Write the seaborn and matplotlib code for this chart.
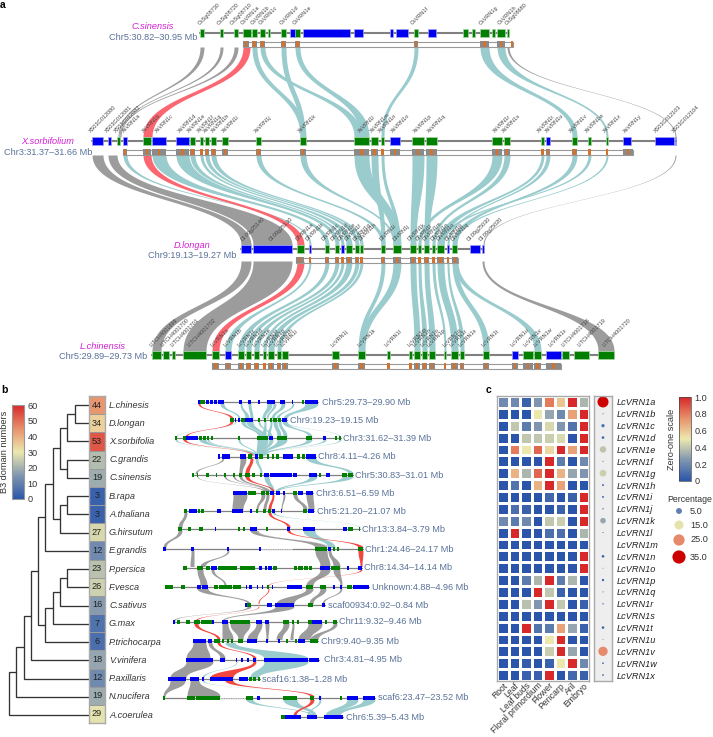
import matplotlib
matplotlib.use("Agg")
import matplotlib.pyplot as plt
import numpy as np
import seaborn as sns
from matplotlib.colors import LinearSegmentedColormap

sns.set_theme(style="white")
plt.rcParams["font.family"] = ["Liberation Sans", "DejaVu Sans"]

W, H = 713, 737
BLUE, GREEN, LINE = "#0000f0", "#007f00", "#808080"
TEAL, GREY, RED = "#9accce", "#9c9c9c", "#fb6670"
SLATE, MAGENTA, DARK = "#5a7299", "#d01fd0", "#333333"

# ---------- panel a: genes along the four regions
cs_name, cs_range = "C.sinensis", "Chr5:30.82–30.95 Mb"
cs_green = [(200, 204), (220, 223), (234, 238), (243, 251), (252, 257), (260, 265), (268, 270), (281, 286),
            (295, 300), (414, 418), (463, 468), (472, 475), (480, 489), (492, 495), (497, 505), (507, 509)]
cs_blue = [(290, 295), (303, 350), (354, 363), (390, 393), (396, 408), (428, 436)]
cs_boxed = [(243, 249), (252, 257), (260, 265), (281, 286), (295, 300), (414, 418), (480, 489), (497, 505),
            (511, 513)]
cs_labels = ["CsSg08730", "CsSg08720", "CsSg08710", "CsVRN1a", "CsVRN1b", "CsVRN1c", "CsVRN1d", "CsVRN1e",
             "CsVRN1f", "CsVRN1g", "CsVRN1h", "CsSg08680"]
cs_label_x = [201, 220, 233, 243, 253, 261, 282, 295, 413, 482, 500, 508]

xs_name, xs_range = "X.sorbifolium", "Chr3:31.37–31.66 Mb"
xs_green = [(117, 120), (143, 151), (190, 195), (200, 203), (205, 209), (211, 216), (222, 228), (256, 261),
            (300, 306), (354, 369), (371, 378), (381, 384), (412, 424), (426, 437), (492, 502), (504, 510),
            (541, 544), (572, 577), (588, 591), (606, 608)]
xs_blue = [(92, 103), (108, 111), (123, 127), (152, 166), (176, 189), (390, 400), (546, 550), (623, 631),
           (655, 674), (675, 676)]
xs_boxed = [(123, 127), (143, 151), (152, 166), (176, 189), (190, 195), (200, 203), (205, 209), (211, 216),
            (222, 228), (256, 261), (300, 306), (354, 369), (371, 378), (381, 384), (390, 400), (412, 424),
            (426, 437), (492, 502), (504, 510), (541, 544), (546, 550), (572, 577), (588, 591), (606, 608),
            (623, 633)]
xs_labels = ["XS03G012080", "XS03G012081", "XS03G012082", "XsVRN1a", "XsVRN1b", "XsVRN1c", "XsVRN1d", "XsVRN1e",
             "XsVRN1f", "XsVRN1g", "XsVRN1h", "XsVRN1i", "XsVRN1j", "XsVRN1k", "XsVRN1l", "XsVRN1m", "XsVRN1n",
             "XsVRN1o", "XsVRN1p", "XsVRN1q", "XsVRN1r", "XsVRN1s", "XsVRN1t", "XsVRN1u", "XsVRN1v", "XsVRN1w",
             "XsVRN1x", "XsVRN1y", "XS03G012103", "XS03G012104"]
xs_label_x = [92, 108, 117, 125, 145, 158, 181, 190, 200, 206, 214, 225, 257, 301, 361, 373, 381, 394, 416, 430,
              496, 505, 540, 548, 572, 588, 606, 626, 657, 675]

dl_name, dl_range = "D.longan", "Chr9:19.13–19.27 Mb"
dl_green = [(297, 304), (325, 329), (335, 339), (346, 352), (355, 359), (360, 363), (381, 385), (393, 401),
            (410, 416), (418, 421), (424, 429), (432, 435), (437, 444), (452, 457)]
dl_blue = [(241, 251), (253, 292), (309, 311), (341, 344), (447, 449), (470, 480), (482, 484)]
dl_boxed = [(296, 304), (309, 311), (325, 329), (335, 339), (341, 344), (346, 352), (355, 359), (360, 363),
            (381, 385), (393, 401), (410, 416), (418, 421), (424, 429), (432, 435), (437, 444), (447, 449),
            (452, 458)]
dl_labels = ["Dl.09g25140", "Dl.09g25130", "DlVRN1a", "DlVRN1b", "DlVRN1c", "DlVRN1d", "DlVRN1e", "DlVRN1f",
             "DlVRN1g", "DlVRN1h", "DlVRN1i", "DlVRN1j", "DlVRN1k", "DlVRN1l", "DlVRN1m", "DlVRN1n", "DlVRN1o",
             "DlVRN1p", "DlVRN1q", "Dl.09g25030", "Dl.09g25020"]
dl_label_x = [244, 271, 298, 308, 324, 333, 340, 347, 356, 361, 382, 395, 410, 418, 425, 433, 439, 447, 453,
              470, 482]

lc_name, lc_range = "L.chinensis", "Chr5:29.89–29.73 Mb"
lc_green = [(152, 161), (163, 169), (172, 175), (183, 206), (212, 219), (238, 244), (246, 251), (254, 259),
            (263, 266), (268, 274), (277, 281), (282, 288), (332, 339), (358, 365), (387, 390), (409, 412),
            (414, 420), (422, 427), (429, 435), (444, 446), (451, 458), (460, 464), (483, 489), (523, 533),
            (534, 541), (562, 569), (574, 589), (598, 614)]
lc_blue = [(225, 231), (512, 518), (546, 561)]
lc_boxed = [(212, 219), (225, 231), (238, 244), (246, 251), (254, 259), (263, 266), (268, 274), (277, 281),
            (282, 288), (332, 339), (358, 365), (387, 390), (409, 412), (414, 420), (422, 427), (429, 435),
            (444, 446), (451, 458), (460, 464), (483, 489), (512, 518), (523, 533), (534, 541), (546, 561)]
lc_labels = ["LITCH4001699", "LITCH4001700", "LITCH4001701", "LITCH4001702", "LcVRN1a", "LcVRN1b", "LcVRN1c",
             "LcVRN1d", "LcVRN1e", "LcVRN1f", "LcVRN1g", "LcVRN1h", "LcVRN1i", "LcVRN1j", "LcVRN1k", "LcVRN1l",
             "LcVRN1m", "LcVRN1n", "LcVRN1o", "LcVRN1p", "LcVRN1q", "LcVRN1r", "LcVRN1s", "LcVRN1t", "LcVRN1u",
             "LcVRN1v", "LcVRN1w", "LcVRN1x", "LITCH4001718", "LITCH4001719", "LITCH4001720"]
lc_label_x = [152, 163, 173, 190, 213, 226, 240, 247, 255, 264, 270, 277, 283, 334, 360, 387, 410, 415, 423, 430,
              445, 452, 461, 484, 513, 526, 536, 551, 564, 580, 605]

# synteny links: top start, top end, bottom start, bottom end
cs_xs_teal = [(252, 257, 300, 306), (260, 265, 354, 362), (281, 286, 300, 305), (295, 300, 360, 369),
              (414, 418, 381, 384), (480, 489, 572, 577), (497, 505, 606, 608)]
cs_xs_grey = [(200, 204, 118, 119), (220, 223, 119, 120), (234, 238, 120, 121), (507, 509, 675, 676)]
cs_xs_red = [(243, 250, 143, 152)]
xs_dl_teal = [(123, 127, 309, 311), (152, 166, 325, 329), (176, 189, 335, 339), (190, 195, 341, 344),
              (200, 203, 346, 352), (205, 209, 355, 359), (211, 216, 360, 363), (256, 261, 381, 385),
              (300, 306, 393, 395), (354, 369, 393, 401), (371, 378, 381, 385), (381, 384, 396, 400),
              (412, 424, 410, 416), (426, 437, 424, 429), (492, 502, 418, 421), (504, 510, 432, 435),
              (541, 544, 437, 444), (546, 550, 447, 449), (572, 577, 452, 457), (588, 591, 440, 444),
              (606, 608, 453, 456)]
xs_dl_grey = [(92, 103, 241, 251), (108, 117, 253, 292), (675, 676, 483, 484)]
xs_dl_red = [(143, 151, 297, 304)]
dl_lc_teal = [(309, 311, 225, 231), (325, 329, 238, 244), (335, 339, 246, 251), (341, 344, 254, 259),
              (346, 352, 263, 266), (355, 359, 268, 274), (360, 363, 277, 281), (381, 385, 358, 362),
              (393, 401, 359, 365), (410, 416, 414, 420), (418, 421, 422, 427), (424, 429, 429, 435),
              (432, 435, 444, 446), (437, 444, 451, 458), (447, 449, 460, 464), (452, 457, 483, 489),
              (453, 458, 534, 541)]
dl_lc_grey = [(241, 251, 152, 161), (253, 292, 183, 206), (482, 484, 598, 614)]
dl_lc_red = [(297, 304, 212, 219)]

# ---------- panel b: phylogeny and B3 domain counts
species = ["L.chinesis", "D.longan", "X.sorbifolia", "C.grandis", "C.sinensis", "B.rapa", "A.thaliana",
           "G.hirsutum", "E.grandis", "P.persica", "F.vesca", "C.sativus", "G.max", "P.trichocarpa", "V.vinifera",
           "P.axillaris", "N.nucifera", "A.coerulea"]
b3_counts = [44, 34, 53, 22, 19, 3, 3, 27, 12, 23, 26, 16, 7, 6, 18, 12, 19, 29]
# (child a, child b, node depth); children < 0 are earlier nodes
tree_nodes = [(0, 1, 74.7), (-1, 2, 67), (3, 4, 67), (-2, -3, 60), (5, 6, 67), (-5, 7, 60), (-4, -6, 52.7),
              (-7, 8, 45.3), (9, 10, 67), (-9, 11, 60), (-10, 12, 52.7), (-11, 13, 45.3), (-8, -12, 38.3),
              (-13, 14, 30.7), (-14, 15, 23.7), (-15, 16, 16.3), (-16, 17, 8.7)]

mini_labels = ["Chr5:29.73–29.90 Mb", "Chr9:19.23–19.15 Mb", "Chr3:31.62–31.39 Mb", "Chr8:4.11–4.26 Mb",
               "Chr5:30.83–31.01 Mb", "Chr3:6.51–6.59 Mb", "Chr5:21.20–21.07 Mb", "Chr13:3.84–3.79 Mb",
               "Chr1:24.46–24.17 Mb", "Chr8:14.34–14.14 Mb", "Unknown:4.88–4.96 Mb", "scaf00934:0.92–0.84 Mb",
               "Chr11:9.32–9.46 Mb", "Chr9:9.40–9.35 Mb", "Chr3:4.81–4.95 Mb", "scaf16:1.38–1.28 Mb",
               "scaf6:23.47–23.52 Mb", "Chr6:5.39–5.43 Mb"]
mini_y = [402, 420, 438, 456.5, 475, 493, 511, 529, 549, 568, 587, 605, 622, 641, 660, 679, 698, 717]
mini_start = [198, 230, 175, 218, 192, 233, 184, 179, 163, 183, 165, 245, 173, 193, 186, 168, 163, 282]
mini_end = [318, 287, 341, 316, 353, 313, 314, 360, 363, 362, 369, 325, 337, 318, 319, 260, 375, 343]
mini_label_x = [322, 290, 343, 318, 355, 316, 317, 362, 365, 364, 372, 328, 339, 321, 324, 262, 378, 346]
mini_blue = [
    [(198, 200), (206, 209), (210, 213), (214, 217), (218, 224), (239, 242), (248, 251), (258, 260), (267, 275),
     (280, 285), (292, 293), (305, 318)],
    [(235, 236), (238, 240), (245, 253), (282, 287)],
    [(186, 198), (269, 273), (323, 326)],
    [(218, 220), (222, 227), (227, 230), (240, 246), (255, 258), (283, 293), (306, 316)],
    [(264, 269), (270, 292), (293, 297), (309, 317), (326, 330)],
    [(233, 247), (270, 274), (276, 280), (283, 285), (298, 303), (306, 313)],
    [(189, 197), (217, 221), (232, 243), (250, 252), (272, 275), (281, 282), (308, 314)],
    [(215, 216), (250, 257), (287, 290), (303, 312), (312, 315), (343, 347)],
    [(163, 166), (191, 194), (227, 229), (259, 261), (328, 331)],
    [(211, 217), (259, 262), (265, 267), (268, 272), (320, 330), (347, 349), (358, 362)],
    [(197, 201), (202, 208), (246, 247), (249, 252), (257, 258), (262, 263), (272, 273), (287, 302), (333, 335),
     (340, 342), (353, 369)],
    [(245, 247), (267, 272), (275, 294), (322, 325)],
    [(173, 175), (212, 214), (222, 228), (256, 262), (265, 269), (312, 322)],
    [(193, 206), (208, 212), (247, 257), (266, 268), (278, 280), (298, 305)],
    [(186, 213), (220, 225), (236, 237), (241, 243), (247, 249), (253, 256), (264, 308), (309, 319)],
    [(168, 186), (190, 199), (202, 204), (210, 233), (239, 248)],
    [(257, 260), (319, 321), (347, 358), (363, 375)],
    [(285, 292), (292, 301), (307, 312), (312, 317), (324, 343)],
]
mini_green = [
    [(200, 205), (302, 304)],
    [(230, 234), (241, 245), (258, 260), (264, 266), (270, 272), (273, 277), (278, 281)],
    [(175, 177), (183, 186), (199, 202), (203, 206), (207, 209), (211, 213), (238, 240), (257, 265), (265, 268),
     (277, 287), (306, 312), (335, 337), (339, 341)],
    [(248, 252), (259, 263), (267, 269), (272, 274), (276, 279), (297, 300), (302, 305)],
    [(192, 194), (197, 198), (206, 209), (216, 217), (224, 226), (233, 235), (239, 242), (245, 250), (252, 255),
     (260, 262), (319, 321), (342, 347), (348, 353)],
    [(248, 256), (261, 265), (266, 269), (293, 297)],
    [(184, 187), (198, 200), (201, 204), (256, 258), (263, 266), (268, 271), (303, 307)],
    [(178, 182), (188, 191), (199, 203), (238, 240), (243, 245), (266, 268), (348, 353), (359, 360)],
    [(315, 327), (333, 335), (337, 339), (358, 363)],
    [(183, 187), (197, 203), (206, 210), (218, 227), (227, 237), (240, 255), (273, 277), (294, 297), (298, 303),
     (304, 308), (309, 312), (331, 340)],
    [(165, 173), (181, 185), (214, 218), (219, 227), (227, 232), (233, 241), (267, 269), (306, 313), (320, 326),
     (347, 352)],
    [(247, 251), (308, 313)],
    [(177, 180), (186, 190), (194, 200), (201, 212), (230, 250), (283, 289), (292, 294), (297, 299), (308, 312),
     (325, 327), (333, 337)],
    [(214, 220), (222, 224), (227, 229), (231, 233), (238, 243), (286, 288), (295, 297), (310, 314), (314, 318)],
    [],
    [(249, 252), (253, 256), (258, 260)],
    [(163, 165), (187, 195), (196, 220), (246, 253), (283, 297), (310, 314), (340, 342)],
    [(281, 285)],
]
# gaps in the line that are drawn dashed, as (track, start, end)
mini_gaps = [(8, 262, 292), (16, 220, 245)]

# links between one track and the next
mini_teal = [
    [(220, 224, 238, 240), (240, 242, 245, 249), (248, 251, 250, 253), (267, 272, 262, 265), (273, 276, 266, 268),
     (281, 285, 271, 274), (292, 294, 276, 279), (305, 318, 283, 287)],
    [(241, 245, 258, 262), (246, 253, 262, 265), (258, 260, 270, 272), (264, 266, 262, 266), (270, 272, 267, 270),
     (273, 277, 277, 281), (278, 281, 283, 287), (282, 287, 308, 312), (235, 236, 176, 177), (285, 287, 339, 340)],
    [(199, 206, 252, 254), (207, 209, 253, 256), (238, 240, 255, 257), (257, 268, 256, 262), (269, 273, 259, 262),
     (277, 287, 260, 264), (306, 312, 262, 266), (323, 326, 262, 264), (175, 177, 250, 251), (339, 341, 261, 262)],
    [(255, 258, 260, 262), (306, 316, 348, 353)],
    [(342, 353, 275, 278), (264, 269, 270, 274), (309, 317, 275, 278)],
    [],
    [(272, 275, 359, 360)],
    [(303, 315, 328, 335)],
    [], [], [], [], [],
    [(225, 235, 264, 308)],
    [(264, 308, 250, 258), (236, 237, 202, 204)],
    [(202, 204, 320, 321)],
    [(246, 253, 310, 313), (283, 297, 312, 316), (347, 358, 325, 335), (363, 375, 332, 340), (319, 321, 307, 309)],
]
mini_grey = [
    [], [], [],
    [(222, 224, 195, 197), (240, 246, 239, 242)],
    [(197, 198, 263, 266), (233, 235, 268, 270), (239, 242, 265, 268), (224, 226, 266, 268)],
    [(233, 247, 232, 243), (261, 265, 256, 258), (266, 269, 263, 266), (283, 285, 281, 282), (293, 297, 303, 307),
     (306, 313, 308, 314)],
    [(184, 187, 178, 182)],
    [(250, 257, 315, 327), (257, 258, 328, 329), (178, 182, 163, 166)],
    [(191, 194, 190, 194), (227, 229, 200, 205), (315, 327, 320, 330), (328, 331, 333, 340)],
    [(197, 203, 200, 207), (320, 330, 306, 313), (211, 214, 224, 226), (333, 340, 340, 342)],
    [(306, 313, 276, 294), (320, 326, 309, 313), (197, 208, 247, 250), (340, 342, 322, 324)],
    [(247, 251, 173, 175), (275, 294, 222, 224)],
    [(222, 228, 222, 233), (230, 250, 238, 243), (256, 262, 247, 257), (265, 269, 266, 268), (283, 289, 276, 282),
     (292, 294, 290, 293), (308, 322, 298, 310), (333, 337, 310, 318)],
    [(193, 206, 186, 210), (208, 212, 220, 225)],
    [(186, 213, 170, 186)],
    [(190, 199, 187, 220), (170, 185, 163, 165)],
    [],
]
mini_red = [(198, 200, 230, 233), (230, 233, 185, 187), (183, 186, 251, 253), (250, 253, 245, 249),
            (245, 249, 272, 274), (272, 274, 268, 271), (268, 271, 287, 290), (287, 290, 358, 363),
            (358, 363, 360, 362), (360, 362, 268, 269), (268, 269, 258, 259), (258, 259, 195, 197),
            (194, 198, 217, 220), (217, 220, 253, 256), (253, 256, 210, 233), (225, 233, 310, 314),
            (310, 314, 293, 296)]

# ---------- panel c: expression
tissues = ["Root", "Leaf", "Leaf buds", "Floral primordium", "Flower", "Pericarp", "Aril", "Embryo"]
vrn_genes = ["LcVRN1" + c for c in "abcdefghijklmnopqrstuvwx"]
expression = [
    [.2, .2, .05, .25, .8, .6, 1, .35], [0, 0, 0, .5, .3, .2, .7, 1], [0, .4, .15, .25, .45, .25, .12, 1],
    [0, 0, .4, .4, .42, .45, 0, 1], [0, .8, .5, .85, .55, 1, .7, 1], [0, 0, 0, 0, 1, .15, 0, .2],
    [0, .65, .35, .85, 1, .65, .3, .25], [0, .12, 0, .65, 1, .7, 0, 0], [0, 0, 0, 0, .07, 0, .05, 1],
    [0, .1, .05, 0, 0, .05, 0, 1], [.2, .15, .2, 0, .4, .42, 0, 1], [0, 1, 0, 0, .1, .1, 0, .35],
    [0, 0, 0, 0, 0, 0, 0, 0], [0, 0, 0, 0, 0, 0, 0, 1], [0, 0, 0, 0, 0, 0, 0, 1],
    [0, 0, .15, .35, 1, .15, .35, 0], [0, 0, 0, 1, .4, .05, 0, 0], [0, 0, .38, .25, 1, .4, 0, .05],
    [0, 0, 0, 0, 0, 0, 0, 0], [0, 0, 1, .12, .15, .7, .3, .05], [0, 0, 0, 0, .5, 1, 0, 0],
    [0, 0, 0, 0, .42, 1, .3, 0], [0, 0, .03, 0, .05, .5, 1, .2], [0, 0, .05, .05, 1, 0, .08, .05],
]
percentage = [35, .3, 3, 2, 12, .3, 13, 1, 1, .5, 9, .3, 0, 2, .2, 1.5, .3, .5, 0, 2, .2, 25, .8, .8]
legend_pct = [5.0, 15.0, 25.0, 35.0]
legend_y = [511, 525, 540, 557]

heat_cmap = LinearSegmentedColormap.from_list(
    "heat", ["#2a55ab", "#8096b0", "#ece8ae", "#e8906a", "#d7282a"])
dot_cmap = LinearSegmentedColormap.from_list(
    "dots", [(0, "#2a55ab"), (5 / 35, "#5f7fb0"), (15 / 35, "#e6e3ac"), (25 / 35, "#e58a6a"), (1, "#cc0000")])


def axes_px(x0, y0, x1, y1):
    return fig.add_axes([x0 / W, 1 - y1 / H, (x1 - x0) / W, (y1 - y0) / H])


def ribbon(ax, link, y0, y1, color, z=1):
    # cubic bezier with both control points half way down
    t = np.linspace(0, 1, 60)
    y = (1 - t) ** 3 * y0 + 3 * (1 - t) ** 2 * t * (y0 + y1) / 2 + 3 * (1 - t) * t ** 2 * (y0 + y1) / 2 + t ** 3 * y1
    s = 3 * t ** 2 - 2 * t ** 3
    left = link[0] + (link[2] - link[0]) * s
    right = link[1] + (link[3] - link[1]) * s
    ax.fill_betweenx(y, left, right, color=color, lw=0, zorder=z)


def genes(ax, spans, y, h, color, edge="none"):
    if spans:
        ax.broken_barh([(a, b - a) for a, b in spans], (y - h / 2, h), facecolors=color, edgecolors=edge,
                       linewidth=.5, zorder=5)


def region(ax, y, green, blue, boxed, labels, label_x, name, rng, text_x, name_y, range_y):
    xs = [v for s in green + blue for v in s]
    ax.plot([min(xs), max(xs)], [y, y], color=LINE, lw=1.5, zorder=4)
    genes(ax, green, y, 8, GREEN, "#a5d5a5")
    genes(ax, blue, y, 8, BLUE, "#a5a5f5")
    bx = [v for s in boxed for v in s]
    box = plt.Rectangle((min(bx), y + 8.5), max(bx) - min(bx), 5.5, fc="none", ec="#999999", lw=.8, zorder=4)
    ax.add_patch(box)
    genes(ax, boxed, y + 11.2, 5.5, "#8a8a8a")
    genes(ax, [((a + b) / 2 - 1.1, (a + b) / 2 + 1.1) for a, b in boxed], y + 11.2, 5.5, "#d2722f")
    for lab, lx in zip(labels, label_x):
        ax.text(lx, y - 7, lab, rotation=45, rotation_mode="anchor", ha="left", va="bottom", fontsize=4,
                color="#444444", zorder=6)
    ax.text(text_x, name_y, name, ha="center", va="center", color=MAGENTA, style="italic", fontsize=6.6)
    ax.text(text_x, range_y, rng, ha="center", va="center", color=SLATE, fontsize=6.6)


fig = plt.figure(figsize=(W / 100, H / 100), dpi=100)
main = fig.add_axes([0, 0, 1, 1])
main.set_xlim(0, W)
main.set_ylim(H, 0)
main.axis("off")

main.text(0, 5, "a", fontweight="bold", fontsize=7.5, va="center", color="black")
main.text(1, 390, "b", fontweight="bold", fontsize=7.5, va="center", color="black")
main.text(486, 390, "c", fontweight="bold", fontsize=7.5, va="center", color="black")

# panel a links, then the regions on top
for links, col in [(cs_xs_teal, TEAL), (cs_xs_grey, GREY), (cs_xs_red, RED)]:
    for link in links:
        ribbon(main, link, 47, 137, col)
for links, col in [(xs_dl_teal, TEAL), (xs_dl_grey, GREY), (xs_dl_red, RED)]:
    for link in links:
        ribbon(main, link, 155, 245, col)
for links, col in [(dl_lc_teal, TEAL), (dl_lc_grey, GREY), (dl_lc_red, RED)]:
    for link in links:
        ribbon(main, link, 261, 351, col)

region(main, 33, cs_green, cs_blue, cs_boxed, cs_labels, cs_label_x, cs_name, cs_range, 153, 26, 37)
region(main, 141, xs_green, xs_blue, xs_boxed, xs_labels, xs_label_x, xs_name, xs_range, 48, 141, 152)
region(main, 249, dl_green, dl_blue, dl_boxed, dl_labels, dl_label_x, dl_name, dl_range, 192, 245, 255)
region(main, 355, lc_green, lc_blue, lc_boxed, lc_labels, lc_label_x, lc_name, lc_range, 103, 346, 356)

# panel b: tree, drawn from the leaves towards the root
row_y = [405 + i * 18.24 for i in range(18)]
node_y = []
for a, b, depth in tree_nodes:
    ya = node_y[-a - 1][0] if a < 0 else row_y[a]
    xa = node_y[-a - 1][1] if a < 0 else 89
    yb = node_y[-b - 1][0] if b < 0 else row_y[b]
    xb = node_y[-b - 1][1] if b < 0 else 89
    main.plot([xa, depth, depth, xb], [ya, ya, yb, yb], color=DARK, lw=.95, solid_joinstyle="miter", zorder=3)
    node_y.append(((ya + yb) / 2, depth))

ax_b3 = axes_px(89, 396, 105, 723)
cax_b3 = axes_px(12, 405, 24, 499)
sns.heatmap(np.array(b3_counts)[:, None], ax=ax_b3, cmap=heat_cmap, vmin=0, vmax=60, annot=True, fmt="d",
            annot_kws={"color": "#222222", "fontsize": 6.6}, linewidths=.4, linecolor="#999999",
            xticklabels=False, yticklabels=False, cbar_ax=cax_b3)
for sp in ax_b3.spines.values():
    sp.set_visible(True)
    sp.set_color("#aaaaaa")
    sp.set_linewidth(1)
cb = ax_b3.collections[0].colorbar
cb.set_ticks([0, 10, 20, 30, 40, 50, 60])
cb.ax.tick_params(size=0, labelsize=6.6, pad=2.5, labelcolor=DARK)
cb.outline.set_edgecolor("#999999")
cb.outline.set_linewidth(.8)
main.text(4.5, 452, "B3 domain numbers", rotation=90, ha="center", va="center", fontsize=6.6, color=DARK)
for name, y in zip(species, row_y):
    main.text(109, y, name, style="italic", fontsize=6.6, va="center", color=DARK)

# panel b: mini tracks
for i in range(17):
    y0, y1 = mini_y[i] + 1.5, mini_y[i + 1] - 1.5
    for link in mini_teal[i]:
        ribbon(main, link, y0, y1, TEAL)
    for link in mini_grey[i]:
        ribbon(main, link, y0, y1, GREY)
    ribbon(main, mini_red[i], y0, y1, "#f2463f", z=2)
for i, y in enumerate(mini_y):
    main.plot([mini_start[i], mini_end[i]], [y, y], color=LINE, lw=.9, zorder=4)
    genes(main, mini_green[i], y, 4.5, GREEN)
    genes(main, mini_blue[i], y, 4.5, BLUE)
    main.text(mini_label_x[i], y, mini_labels[i], va="center", fontsize=6.6, color=SLATE)
for i, a, b in mini_gaps:
    main.plot([a, b], [mini_y[i], mini_y[i]], color="white", lw=1.2, zorder=4.5)
    main.plot([a, b], [mini_y[i], mini_y[i]], color=LINE, lw=.5, ls=(0, (1.5, 1)), zorder=4.6)

# panel c: heatmap
ax_heat = axes_px(497, 396, 589, 681)
cax_heat = axes_px(679, 397, 691, 481)
sns.heatmap(np.array(expression), ax=ax_heat, cmap=heat_cmap, vmin=0, vmax=1, linewidths=.9, linecolor="white",
            xticklabels=tissues, yticklabels=False, cbar_ax=cax_heat)
ax_heat.tick_params(axis="x", length=0, pad=0, labelsize=6.2, labelcolor=DARK)
plt.setp(ax_heat.get_xticklabels(), rotation=45, ha="right", rotation_mode="anchor")
for sp in ax_heat.spines.values():
    sp.set_visible(True)
    sp.set_color("#aaaaaa")
    sp.set_linewidth(1)
cb2 = ax_heat.collections[0].colorbar
cb2.set_ticks([0, .2, .4, .6, .8, 1])
cb2.set_ticklabels(["0", "0.2", "0.4", "0.6", "0.8", "1.0"])
cb2.ax.tick_params(size=0, labelsize=6.6, pad=2.5, labelcolor=DARK)
cb2.outline.set_edgecolor("#444444")
cb2.outline.set_linewidth(.5)
main.text(672, 439, "Zero-one scale", rotation=90, ha="center", va="center", fontsize=6.6, color=DARK)

# panel c: dot strip with the gene names
ax_dots = axes_px(594, 396, 612, 681)
sns.scatterplot(x=np.zeros(24), y=np.arange(24) + .5, hue=percentage, size=percentage, hue_norm=(0, 35),
                size_norm=(0, 35), sizes=(0, 63), palette=dot_cmap, linewidth=0, legend=False, ax=ax_dots)
ax_dots.set_xlim(-1, 1)
ax_dots.set_ylim(24, 0)
ax_dots.set_facecolor("#eeeeee")
ax_dots.set_xticks([])
ax_dots.set_yticks(np.arange(24) + .5)
ax_dots.set_yticklabels(vrn_genes, style="italic", fontsize=6.6, color="#222222")
ax_dots.yaxis.tick_right()
ax_dots.tick_params(axis="y", length=0, pad=3.5)
for sp in ax_dots.spines.values():
    sp.set_color("#aaaaaa")
    sp.set_linewidth(1)

# panel c: size legend
main.text(667, 499, "Percentage", va="center", fontsize=6.3, color=DARK)
sns.scatterplot(x=[679] * 4, y=legend_y, hue=legend_pct, size=legend_pct, hue_norm=(0, 35), size_norm=(0, 35),
                sizes=(6, 90), palette=dot_cmap, linewidth=0, legend=False, ax=main, zorder=6)
main.set_xlim(0, W)
main.set_ylim(H, 0)
main.set_xlabel("")
main.set_ylabel("")
for p, y in zip(legend_pct, legend_y):
    main.text(690, y, f"{p:.1f}", va="center", fontsize=6.6, color=DARK)

fig.savefig("out.png", dpi=100)
